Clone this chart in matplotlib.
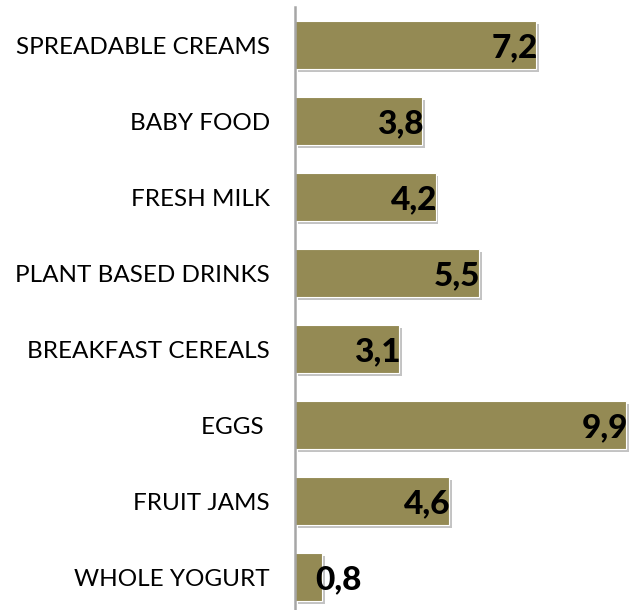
import matplotlib
matplotlib.use("Agg")
import matplotlib.pyplot as plt
import matplotlib.patheffects as pe

categories = ["SPREADABLE CREAMS", "BABY FOOD", "FRESH MILK", "PLANT BASED DRINKS",
              "BREAKFAST CEREALS", "EGGS ", "FRUIT JAMS", "WHOLE YOGURT"]
values = [7.2, 3.8, 4.2, 5.5, 3.1, 9.9, 4.6, 0.8]
value_labels = ["7,2", "3,8", "4,2", "5,5", "3,1", "9,9", "4,6", "0,8"]

fig = plt.figure(figsize=(6.33, 6.10), dpi=100)
ax = fig.add_axes([295 / 633, -5 / 610, 338 / 633, 608 / 610])

y = list(range(len(categories)))
bars = ax.barh(y, values, height=0.63, color="#948A54", edgecolor="white", linewidth=0.8)
for b in bars:
    b.set_path_effects([pe.SimplePatchShadow(offset=(2, -2), shadow_rgbFace="#888888", alpha=0.5),
                        pe.Normal()])

for yi, v, lab in zip(y, values, value_labels):
    ax.text(max(v, 1.95) + 0.05, yi + 0.03, lab, ha="right", va="center", fontsize=24,
            fontweight="black", family="Lato", color="black")

ax.set_xlim(0, 10.1)
ax.set_ylim(len(categories) - 0.5, -0.5)
ax.set_yticks(y)
ax.set_yticklabels(categories, family="Lato", fontsize=17.5)
ax.tick_params(axis="y", length=0, pad=18)
ax.set_xticks([])
for s in ["top", "right", "bottom"]:
    ax.spines[s].set_visible(False)
ax.spines["left"].set_color("#A6A6A6")
ax.spines["left"].set_linewidth(1.8)

fig.savefig("out.png", dpi=100)
